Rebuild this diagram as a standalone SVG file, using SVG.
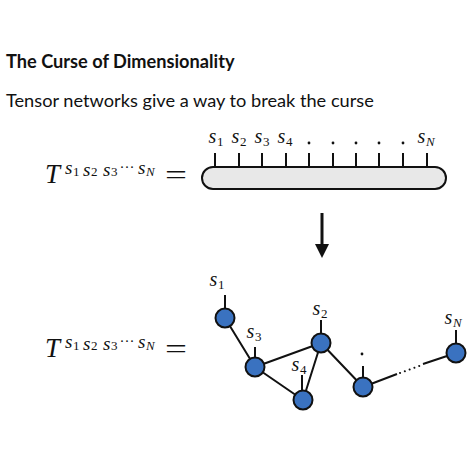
<svg xmlns="http://www.w3.org/2000/svg" width="474" height="474" viewBox="0 0 474 474">
<style>
.ttl{font-family:Lato,sans-serif;font-weight:bold;font-size:18.2px;fill:#111}
.sub{font-family:Lato,sans-serif;font-size:18.2px;fill:#111}
.ln{stroke:#111;stroke-width:2;fill:none}
.nd{fill:#3a72c0;stroke:#111;stroke-width:2}
.mt{font-family:'Liberation Serif',serif;fill:#111}
</style>
<rect width="474" height="474" fill="#fff"/>
<text class="ttl" x="6" y="68">The Curse of Dimensionality</text>
<text class="sub" x="6" y="107">Tensor networks give a way to break the curse</text>

<g id="eq-top" class="mt">
<text x="45" y="183" font-size="27" font-style="italic">T</text>
<text y="174" font-size="19" font-style="italic"><tspan x="65">s</tspan><tspan x="73" dy="2" font-size="13" font-style="normal">1</tspan><tspan x="83">s</tspan><tspan x="91" font-size="13" font-style="normal">2</tspan><tspan x="103">s</tspan><tspan x="111" font-size="13" font-style="normal">3</tspan></text>
<text x="119.5" y="172" font-size="15">···</text>
<text y="174" font-size="19" font-style="italic"><tspan x="138">s</tspan><tspan x="146" dy="2" font-size="13">N</tspan></text>
<text x="165" y="184" font-size="28" textLength="22" lengthAdjust="spacingAndGlyphs">=</text>
</g>

<g id="tensor" class="mt">
<rect x="202" y="167" width="244" height="22" rx="11" ry="11" fill="#e8e8e8" stroke="#111" stroke-width="2"/>
<path class="ln" d="M215 153V167M239 153V167M262 153V167M286 153V167M309 153V167M333 153V167M356 153V167M379 153V167M403 153V167M427 153V167"/>
<text y="143" font-size="20" font-style="italic"><tspan x="208.5">s</tspan><tspan x="217" dy="3" font-size="13" font-style="normal">1</tspan></text>
<text y="143" font-size="20" font-style="italic"><tspan x="231.5">s</tspan><tspan x="240" dy="3" font-size="13" font-style="normal">2</tspan></text>
<text y="143" font-size="20" font-style="italic"><tspan x="254.5">s</tspan><tspan x="263" dy="3" font-size="13" font-style="normal">3</tspan></text>
<text y="143" font-size="20" font-style="italic"><tspan x="277.5">s</tspan><tspan x="286" dy="3" font-size="13" font-style="normal">4</tspan></text>
<circle cx="309" cy="143" r="1.4"/><circle cx="333" cy="143" r="1.4"/><circle cx="356" cy="143" r="1.4"/><circle cx="379" cy="143" r="1.4"/><circle cx="403" cy="143" r="1.4"/>
<text y="143" font-size="20" font-style="italic"><tspan x="417.5">s</tspan><tspan x="426" dy="3" font-size="13">N</tspan></text>
</g>

<g id="eq-bottom" class="mt">
<text x="45" y="357" font-size="27" font-style="italic">T</text>
<text y="348" font-size="19" font-style="italic"><tspan x="65">s</tspan><tspan x="73" dy="2" font-size="13" font-style="normal">1</tspan><tspan x="83">s</tspan><tspan x="91" font-size="13" font-style="normal">2</tspan><tspan x="103">s</tspan><tspan x="111" font-size="13" font-style="normal">3</tspan></text>
<text x="119.5" y="346" font-size="15">···</text>
<text y="348" font-size="19" font-style="italic"><tspan x="138">s</tspan><tspan x="146" dy="2" font-size="13">N</tspan></text>
<text x="165" y="358" font-size="28" textLength="22" lengthAdjust="spacingAndGlyphs">=</text>
</g>

<g id="arrow">
<line x1="322" y1="213" x2="322" y2="246" stroke="#111" stroke-width="3"/>
<polygon points="315,244 329,244 322,258" fill="#111"/>
</g>

<g id="connectors">
<path class="ln" d="M225 318L255 367M255 367L321 343M255 367L303 400M303 400L321 343M321 343L363 387M363 387L397 374M423 364L456 353"/>
<path class="ln" d="M400 373L422 365" stroke-dasharray="0.1 5" stroke-linecap="round"/>
<path class="ln" d="M225 295V318M255 347V367M321 320V343M302 375V400M363 366V387M456 330V353"/>
</g>

<g class="mt" font-size="20" font-style="italic">
<g id="n1"><circle class="nd" cx="225" cy="318" r="9.5"/><text y="286"><tspan x="209.5">s</tspan><tspan x="218" dy="3" font-size="13" font-style="normal">1</tspan></text></g>
<g id="n3"><circle class="nd" cx="255" cy="367" r="9.5"/><text y="338"><tspan x="246.5">s</tspan><tspan x="255" dy="3" font-size="13" font-style="normal">3</tspan></text></g>
<g id="n2"><circle class="nd" cx="321" cy="343" r="9.5"/><text y="315"><tspan x="312.5">s</tspan><tspan x="321" dy="3" font-size="13" font-style="normal">2</tspan></text></g>
<g id="n4"><circle class="nd" cx="303" cy="400" r="9.5"/><text y="371"><tspan x="291.5">s</tspan><tspan x="300" dy="3" font-size="13" font-style="normal">4</tspan></text></g>
<g id="n5"><circle class="nd" cx="363" cy="387" r="9.5"/><circle cx="362" cy="354" r="1.4"/></g>
<g id="nN"><circle class="nd" cx="456" cy="353" r="9.5"/><text y="324"><tspan x="444.5">s</tspan><tspan x="453" dy="3" font-size="13">N</tspan></text></g>
</g>
</svg>
